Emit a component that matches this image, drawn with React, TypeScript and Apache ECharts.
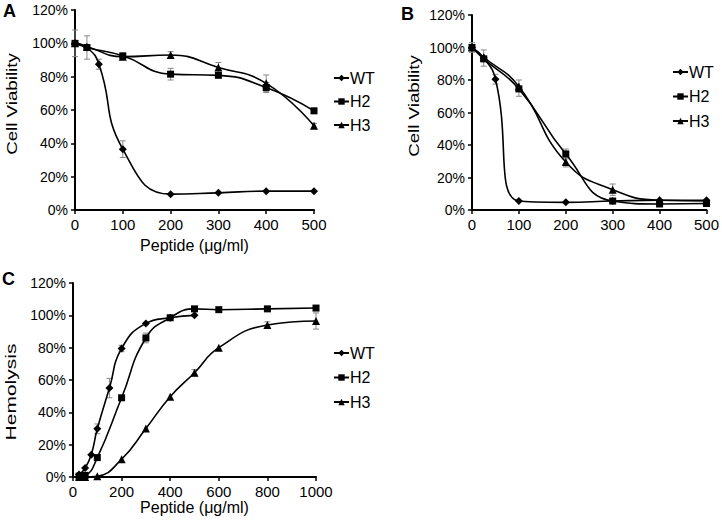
import React, { useEffect, useRef } from "react";
import * as echarts from "echarts";

// ---------- data (percent) ----------
const panelAWTx = [0, 25, 50, 100, 200, 300, 400, 500];
const panelAWT = [100, 97.5, 87.5, 36.5, 9.5, 10.3, 11.3, 11.3];
const panelAHx = [0, 25, 100, 200, 300, 400, 500];
const panelAH2 = [100, 97.5, 92.5, 81.5, 80.8, 73.5, 59.5];
const panelAH3 = [100, 98, 92, 93, 85.5, 76, 50.5];

const panelBWTx = [0, 25, 50, 100, 200, 300, 400, 500];
const panelBWT = [100, 93.5, 80.5, 5.5, 4.7, 5.5, 6, 6];
const panelBHx = [0, 25, 100, 200, 300, 400, 500];
const panelBH2 = [100, 93, 74.5, 34.5, 5.5, 3.7, 4];
const panelBH3 = [100, 94, 76, 29.5, 12.5, 6, 5.5];

const panelCWTx = [25, 50, 75, 100, 150, 200, 300, 400, 500];
const panelCWT = [1.5, 5.5, 13.8, 29.8, 55, 79.5, 95, 98.5, 100];
const panelCHx = [25, 50, 100, 200, 300, 400, 500, 600, 800, 1000];
const panelCH2 = [0.5, 1, 12, 49, 86, 98.5, 104, 103.5, 104, 104.5];
const panelCH3 = [0, 0, 0.5, 11, 30, 49.7, 64.5, 80, 94, 96.5];

// error bars: [x, mean, error]
const errorsA = [
  [0, 100, 8], [25, 97.5, 7], [50, 87.5, 3], [100, 36.5, 5], [100, 92.5, 1.5],
  [200, 81.5, 3.5], [200, 93, 2], [300, 85.5, 3], [400, 76, 5], [400, 73.5, 3],
  [500, 59.5, 1.5], [500, 50.5, 1.5],
];
const errorsB = [
  [0, 100, 3], [25, 93.5, 5], [50, 80.5, 3], [100, 75, 5], [200, 34.5, 3],
  [200, 29.5, 3], [300, 12.5, 3.5],
];
const errorsC = [
  [100, 29.8, 3], [150, 55, 6], [200, 79.5, 2], [300, 86, 3], [500, 64.5, 2],
  [800, 94, 2], [1000, 96.5, 5],
];

const seriesNames = ["WT", "H2", "H3"];
const yTicks = { min: 0, max: 120, interval: 20 };
const xTicksAB = { min: 0, max: 500, interval: 100 };
const xTicksC = { min: 0, max: 1000, interval: 200 };

const FONT = "Liberation Sans, Arial, Helvetica, sans-serif";

const zip = (xs: number[], ys: number[]) => xs.map((x, i) => [x, ys[i]]);

export default function App() {
  const ref = useRef<HTMLDivElement>(null);
  useEffect(() => {
    if (!ref.current) return;
    const chart = echarts.init(ref.current, null, { renderer: "svg" });

    const axisLine = { show: true, lineStyle: { color: "#000", width: 2 } };
    const axisTick = { show: true, inside: false, length: 4, lineStyle: { color: "#000", width: 1.5 } };
    const axisLabel = { color: "#000", fontSize: 14, fontFamily: FONT, margin: 7 };

    const mkX = (idx: number, ticks: any, name: string, gap: number) => ({
      type: "value",
      gridIndex: idx,
      ...ticks,
      axisLine,
      axisTick,
      axisLabel: { ...axisLabel, fontSize: 15, formatter: (v: number) => String(v) },
      splitLine: { show: false },
      name,
      nameLocation: "middle",
      nameGap: gap,
      nameTextStyle: { color: "#000", fontSize: 16, fontFamily: FONT },
    });
    const mkY = (idx: number) => ({
      type: "value",
      gridIndex: idx,
      ...yTicks,
      axisLine,
      axisTick,
      axisLabel: { ...axisLabel, formatter: "{value}%" },
      splitLine: { show: false },
    });

    const symbols = ["diamond", "rect", "triangle"];
    const sizes = [8, 7, 8];
    const lineSeries = (idx: number, sets: number[][][]) =>
      sets.map((d, i) => ({
        type: "line",
        name: seriesNames[i],
        xAxisIndex: idx,
        yAxisIndex: idx,
        data: d,
        smooth: 0.5,
        symbol: symbols[i],
        symbolSize: sizes[i],
        showSymbol: true,
        itemStyle: { color: "#000" },
        lineStyle: { color: "#000", width: 1.6 },
        z: 3,
      }));

    const errSeries = (idx: number, errs: number[][]) => ({
      type: "custom",
      xAxisIndex: idx,
      yAxisIndex: idx,
      data: errs.map(([x, m, e]) => [x, m - e, m + e]),
      encode: { x: 0, y: [1, 2] },
      z: 2,
      silent: true,
      renderItem: (params: any, api: any) => {
        const lo = api.coord([api.value(0), api.value(1)]);
        const hi = api.coord([api.value(0), api.value(2)]);
        const w = 3;
        const style = { stroke: "#888", lineWidth: 1 };
        return {
          type: "group",
          children: [
            { type: "line", shape: { x1: lo[0], y1: lo[1], x2: hi[0], y2: hi[1] }, style },
            { type: "line", shape: { x1: lo[0] - w, y1: lo[1], x2: lo[0] + w, y2: lo[1] }, style },
            { type: "line", shape: { x1: hi[0] - w, y1: hi[1], x2: hi[0] + w, y2: hi[1] }, style },
          ],
        };
      },
    });

    const legend = (left: number, top: number, gap: number) => ({
      data: seriesNames,
      orient: "vertical",
      left,
      top,
      padding: 0,
      itemGap: gap,
      itemWidth: 15,
      itemHeight: 8,
      selectedMode: false,
      textStyle: { color: "#000", fontSize: 16, fontFamily: FONT, padding: [0, 0, 0, -4] },
    });

    const yName = (text: string, x: number, y: number, stretch: number) => ({
      type: "text",
      x,
      y,
      rotation: Math.PI / 2,
      scaleX: stretch,
      style: { text, font: `15px ${FONT}`, fill: "#000", align: "center", verticalAlign: "middle" },
    });

    chart.setOption({
      animation: false,
      backgroundColor: "#fff",
      grid: [
        { left: 75, top: 10, width: 239, height: 200 },
        { left: 472, top: 15, width: 236, height: 195 },
        { left: 73, top: 283, width: 243, height: 194 },
      ],
      xAxis: [
        mkX(0, xTicksAB, "Peptide (\u03bcg/ml)", 27),
        mkX(1, xTicksAB, "", 27),
        mkX(2, xTicksC, "Peptide (\u03bcg/ml)", 20),
      ],
      yAxis: [mkY(0), mkY(1), mkY(2)],
      legend: [legend(333, 70, 7.5), legend(672, 64, 8.5), legend(333, 345, 8.5)],
      graphic: [
        { type: "text", left: 3, top: 2, style: { text: "A", font: `bold 18px ${FONT}`, fill: "#000" } },
        { type: "text", left: 401, top: 5, style: { text: "B", font: `bold 18px ${FONT}`, fill: "#000" } },
        { type: "text", left: 2, top: 270, style: { text: "C", font: `bold 18px ${FONT}`, fill: "#000" } },
        yName("Cell Viability", 12, 104, 1.25),
        yName("Cell Viability", 414, 106, 1.25),
        yName("Hemolysis", 11, 392, 1.4),
      ],
      series: [
        ...lineSeries(0, [zip(panelAWTx, panelAWT), zip(panelAHx, panelAH2), zip(panelAHx, panelAH3)]),
        ...lineSeries(1, [zip(panelBWTx, panelBWT), zip(panelBHx, panelBH2), zip(panelBHx, panelBH3)]),
        ...lineSeries(2, [zip(panelCWTx, panelCWT), zip(panelCHx, panelCH2), zip(panelCHx, panelCH3)]),
        errSeries(0, errorsA),
        errSeries(1, errorsB),
        errSeries(2, errorsC),
      ],
    });
    return () => chart.dispose();
  }, []);
  return <div ref={ref} style={{ position: "fixed", left: 0, top: 0, width: 722, height: 523 }} />;
}
